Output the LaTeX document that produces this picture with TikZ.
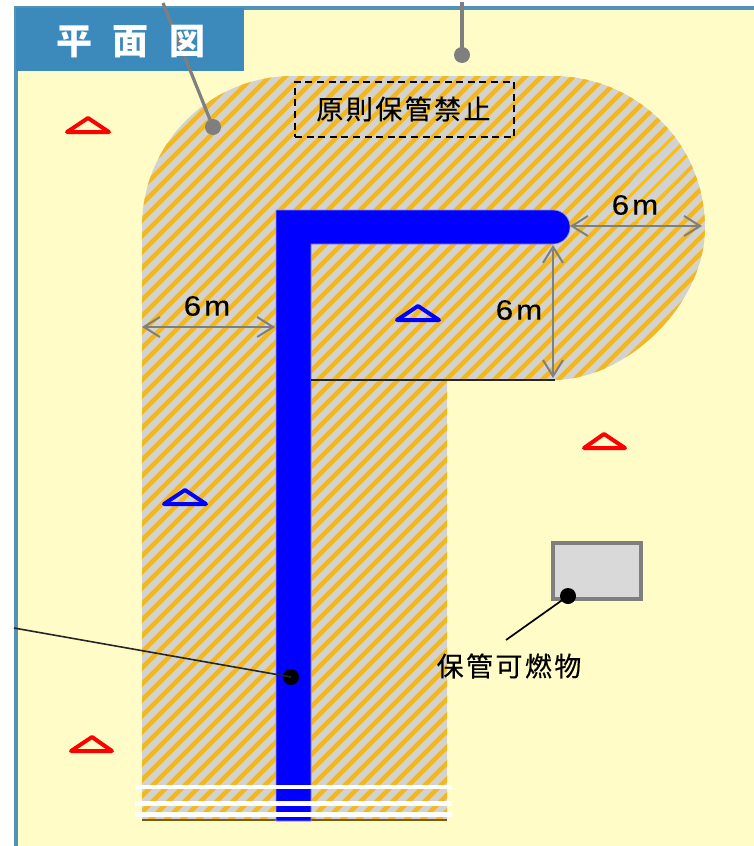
\documentclass[tikz,border=0pt]{standalone}
\usepackage{fontspec}
\setmainfont{Noto Sans CJK JP}
\newfontfamily\latinfont[FakeStretch=1.12,FakeBold=0.25]{Liberation Sans}
\usetikzlibrary{arrows.meta}
\definecolor{paper}{HTML}{FFFCC8}
\definecolor{framec}{HTML}{4F93B8}
\definecolor{titlec}{HTML}{3C8ABC}
\definecolor{hatchbg}{HTML}{D2D2D2}
\definecolor{hatchfg}{HTML}{F2B81E}
\definecolor{hatchhi}{HTML}{FFBF00}
\definecolor{leader}{HTML}{7F7F7F}
\definecolor{pure}{HTML}{0000FF}
\tikzset{
  x=1pt,y=1pt,
  stripe/.style={hatchfg,line width=4.4pt},
  stripehi/.style={hatchhi,line width=3pt},
  leaderline/.style={leader,line width=3.2pt},
  blackline/.style={black!85,line width=1.6pt},
  dim/.style={leader,line width=2pt,{Straight Barb[length=16pt,width=20pt,line width=2pt]}-{Straight Barb[length=16pt,width=20pt,line width=2pt]}},
  dot/.style={circle,inner sep=0pt,minimum size=16pt},
  tri/.style={line width=4pt,line join=round,line cap=round},
  jp/.style={inner sep=0pt,font=\fontsize{27}{30}\selectfont\addfontfeature{LetterSpace=9,FakeBold=0.3},text=black},
  dimtext/.style={inner sep=0pt,font=\latinfont\fontsize{28}{30}\selectfont,text=black},
}
\newcommand{\sixm}{6\kern3pt m}
\begin{document}
\begin{tikzpicture}
\useasboundingbox (0,0) rectangle (754,-846);
\fill[white] (0,0) rectangle (754,-846);
\fill[paper] (16,-8) rectangle (754,-846);
\draw[framec,line width=3.4pt] (16,-846) -- (16,-8) -- (754,-8);
% hatched area
\begin{scope}
\clip (142,-820) -- (142,-227) arc[start angle=180,end angle=90,radius=151] -- (553,-76) arc[start angle=90,end angle=0,radius=152] .. controls (705,-303) and (628,-380) .. (553,-380) -- (447,-380) -- (447,-820) -- cycle;
\fill[hatchbg] (130,-60) rectangle (720,-830);
\foreach \a in {202,218,...,1300}{\draw[stripe] (\a,0) -- (\a-900,-900);}
\begin{scope}
\clip (600,-222) -- (640,-222) -- (695,-160) -- (672,-130) -- cycle;
\fill[hatchbg] (590,-120) rectangle (700,-222);
\foreach \a in {810,826,...,890}{\draw[stripehi] (\a,0) -- (\a-900,-900);}
\end{scope}
\end{scope}
\draw[black!50!hatchfg,line width=1.2pt] (142,-820) -- (447,-820);
% blue wall
\fill[pure,draw=pure!45,line width=.6pt] (276,-821) -- (276,-210) -- (553,-210) arc[start angle=90,end angle=-90,radius=17] -- (311,-244) -- (311,-821) -- cycle;
% white bands
\draw[white,line width=4.5pt] (135,-787) -- (452,-787);
\draw[white,line width=4.5pt] (135,-803.5) -- (452,-803.5);
\draw[white,line width=4.4pt] (135,-814.5) -- (452,-814.5);
% thin edge
\coordinate (edgeA) at (311,-380);
\coordinate (edgeB) at (555,-380);
\draw[blackline] (edgeA) -- (edgeB);
% title
\node[fill=titlec,minimum width=228pt,minimum height=63pt,inner sep=0pt,anchor=north west] (title) at (16,-8) {};
% leaders
\coordinate (leadA) at (163,-3);
\node[dot,fill=leader] (dotA) at (213,-127) {};
\draw[leaderline] (leadA) -- (dotA.center);
\coordinate (leadB) at (462,-2);
\node[dot,fill=leader] (dotB) at (462,-55) {};
\draw[leaderline] (leadB) -- (dotB.center);
\node[inner sep=0pt,text=white,font=\fontsize{36}{38}\selectfont\bfseries] (titletext) at (131,-42) {平\kern21pt 面\kern21pt 図};
% dashed label
\node[draw=black,dash pattern=on 7pt off 4.6pt,line width=2pt,minimum width=219pt,minimum height=55pt,inner sep=0pt] (ban) at (404.5,-109.5) {};
\node[jp] (bantext) at (403.5,-109) {原則保管禁止};
% triangles
\draw[tri,red] (67,-132) -- (88,-118) -- (109,-132) -- cycle;
\draw[tri,red] (584,-448) -- (604,-434) -- (625,-448) -- cycle;
\draw[tri,red] (71,-751) -- (92,-737) -- (112,-751) -- cycle;
\draw[tri,pure] (397,-320) -- (418,-306) -- (439,-320) -- cycle;
\draw[tri,pure] (164,-504) -- (185,-490) -- (206,-504) -- cycle;
% dimensions
\coordinate (d1a) at (142,-327); \coordinate (d1b) at (275,-327);
\coordinate (d2a) at (570,-226); \coordinate (d2b) at (702,-226);
\coordinate (d3a) at (553,-245); \coordinate (d3b) at (553,-378);
\draw[dim] (d1a) -- (d1b);
\draw[dim] (d2a) -- (d2b);
\draw[dim] (d3a) -- (d3b);
\node[dimtext] (t1) at (207,-306) {\sixm};
\node[dimtext] (t2) at (635,-205) {\sixm};
\node[dimtext] (t3) at (519,-310) {\sixm};
% combustible box
\node[draw=leader,fill=black!15,line width=3.2pt,minimum width=88pt,minimum height=56pt,inner sep=0pt] (box) at (597,-571) {};
\node[dot,fill=black] (dotC) at (568,-596) {};
\coordinate (leadC) at (506,-640);
\draw[black,line width=1.7pt] (dotC.center) -- (leadC);
\node[jp] (boxtext) at (509,-666) {保管可燃物};
% wall leader
\coordinate (leadD) at (14,-628);
\node[dot,fill=black] (dotD) at (291,-677) {};
\draw[black!85,line width=1.6pt] (leadD) -- (dotD.center);
\end{tikzpicture}
\end{document}
